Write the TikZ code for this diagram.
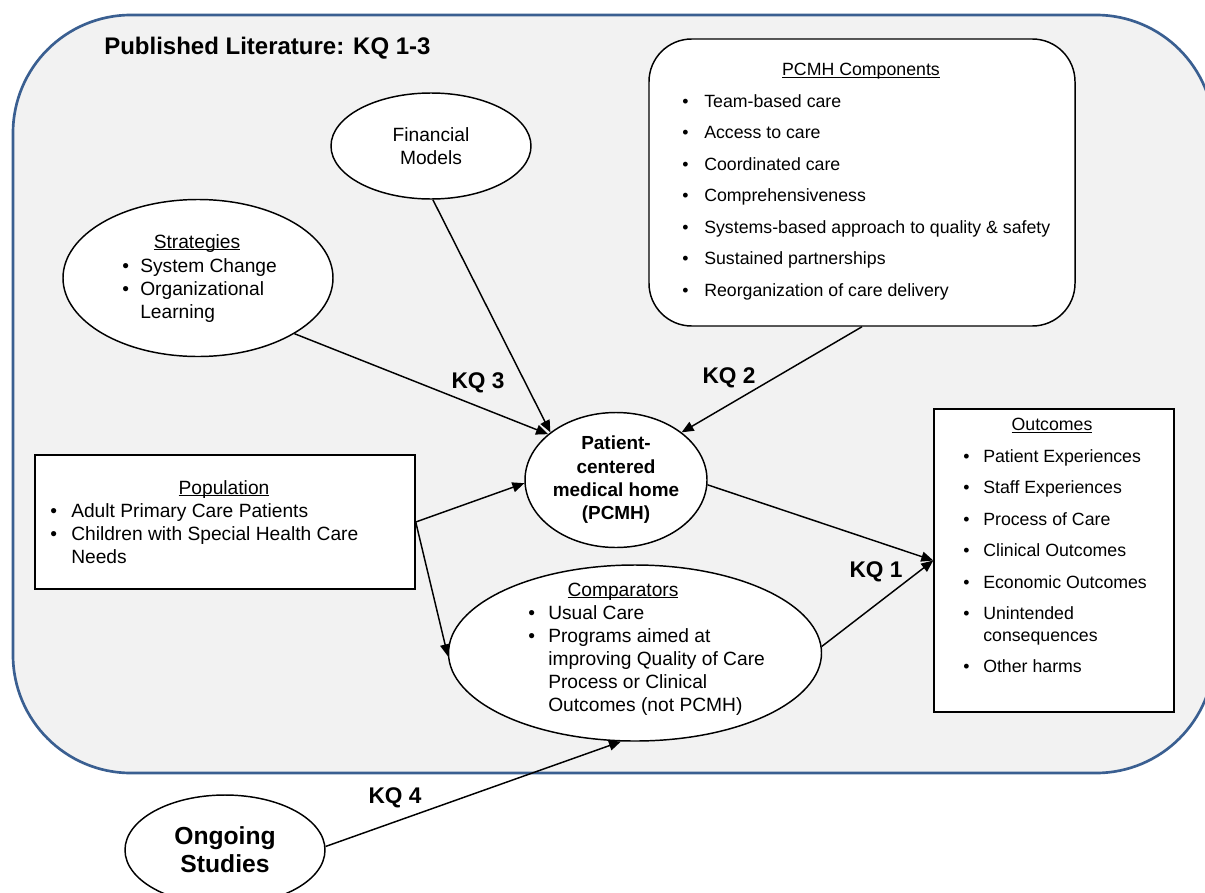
\documentclass[tikz,border=0pt]{standalone}
\usepackage{fontspec}
\setmainfont{Liberation Sans}
\usetikzlibrary{shapes.geometric,arrows.meta}
\definecolor{frameblue}{RGB}{58,95,145}
\definecolor{panel}{RGB}{242,242,242}
\newcommand\bul[1]{\makebox[#1][l]{•}}
\newsavebox\ulinebox
\newcommand\uline[1]{\sbox\ulinebox{#1}\rlap{\rule[-1.6pt]{\wd\ulinebox}{0.6pt}}\usebox\ulinebox}
\begin{document}
\begin{tikzpicture}[x=0.75pt,y=-0.75pt,
  figshape/.style={draw=black, fill=white, line width=1.1pt, inner sep=0pt},
  oval/.style={figshape, ellipse},
  box/.style={figshape, rectangle},
  conn/.style={line width=1.1pt, -{Triangle[length=9pt,width=7.5pt]}},
  kq/.style={font=\fontsize{17}{20}\selectfont\bfseries, inner sep=0pt},
  ttl/.style={inner sep=0pt, anchor=base},
  lst/.style={inner sep=0pt, anchor=base west},
  big/.style={font=\fontsize{14.4}{17.25}\selectfont},
  small/.style={font=\fontsize{13.3}{16}\selectfont},
]
\useasboundingbox (0,0) rectangle (1205,892);
\path[draw=frameblue, fill=panel, line width=2pt, rounded corners=88.5pt] (13,15) rectangle (1214,773);

\node[inner sep=0pt, anchor=base west, font=\fontsize{18}{21}\selectfont\bfseries] (title) at (104,54.5) {Published Literature: KQ 1-3};

% Financial models
\node[oval, big, minimum width=150pt, minimum height=79.5pt, align=center] (fin) at (431,146) {Financial\\Models};

% Strategies
\node[oval, minimum width=202.5pt, minimum height=117.75pt] (strat) at (198,278) {};
\node[ttl, big] (strat-t) at (197,248) {\uline{Strategies}};
\node[lst, big] (strat-l) at (122,272) {\begin{tabular}[t]{@{}l@{}}
\bul{13.5pt}System Change\\
\bul{13.5pt}Organizational\\
\hspace*{13.5pt}Learning
\end{tabular}};

% PCMH components
\node[box, rounded corners=32pt, minimum width=319.5pt, minimum height=215.25pt] (comp) at (862,182.5) {};
\node[ttl, small] (comp-t) at (861,75.5) {\uline{PCMH Components}};
\node[lst, small] (comp-l) at (682,107.5) {\begin{tabular}[t]{@{}l@{}}
\bul{16.5pt}Team-based care\\[7.6pt]
\bul{16.5pt}Access to care\\[7.6pt]
\bul{16.5pt}Coordinated care\\[7.6pt]
\bul{16.5pt}Comprehensiveness\\[7.6pt]
\bul{16.5pt}Systems-based approach to quality \& safety\\[7.6pt]
\bul{16.5pt}Sustained partnerships\\[7.6pt]
\bul{16.5pt}Reorganization of care delivery
\end{tabular}};

% PCMH
\node[oval, minimum width=136.5pt, minimum height=101.25pt, align=center, font=\fontsize{14.2}{17.5}\selectfont\bfseries] (pcmh) at (616,480) {Patient-\\centered\\medical home\\(PCMH)};

% Population
\node[box, minimum width=285pt, minimum height=100.5pt] (pop) at (225,522) {};
\node[ttl, big] (pop-t) at (224,494) {\uline{Population}};
\node[lst, big] (pop-l) at (50,517) {\begin{tabular}[t]{@{}l@{}}
\bul{15.75pt}Adult Primary Care Patients\\
\bul{15.75pt}Children with Special Health Care\\
\hspace*{15.75pt}Needs
\end{tabular}};

% Comparators
\node[oval, minimum width=279.75pt, minimum height=132pt] (cmp) at (635,653) {};
\node[ttl, font=\fontsize{14.4}{17.4}\selectfont] (cmp-t) at (623,596) {\uline{Comparators}};
\node[lst, font=\fontsize{14.4}{17.4}\selectfont] (cmp-l) at (528,619) {\begin{tabular}[t]{@{}l@{}}
\bul{15pt}Usual Care\\
\bul{15pt}Programs aimed at\\
\hspace*{15pt}improving Quality of Care\\
\hspace*{15pt}Process or Clinical\\
\hspace*{15pt}Outcomes (not PCMH)
\end{tabular}};

% Outcomes
\node[box, minimum width=180pt, minimum height=227.25pt] (out) at (1054,560.5) {};
\node[ttl, small] (out-t) at (1052,430.5) {\uline{Outcomes}};
\node[lst, small] (out-l) at (963,462.5) {\begin{tabular}[t]{@{}l@{}}
\bul{15pt}Patient Experiences\\[7.6pt]
\bul{15pt}Staff Experiences\\[7.6pt]
\bul{15pt}Process of Care\\[7.6pt]
\bul{15pt}Clinical Outcomes\\[7.6pt]
\bul{15pt}Economic Outcomes\\[7.6pt]
\bul{15pt}Unintended\\
\hspace*{15pt}consequences\\[7.6pt]
\bul{15pt}Other harms
\end{tabular}};

% Ongoing studies
\node[oval, minimum width=150pt, minimum height=82.5pt, align=center, font=\fontsize{18.5}{21}\selectfont\bfseries] (ong) at (225,850) {Ongoing\\Studies};

% KQ labels
\node[kq] (kq3) at (478,383) {KQ 3};
\node[kq] (kq2) at (729,378) {KQ 2};
\node[kq] (kq1) at (876,572) {KQ 1};
\node[kq] (kq4) at (395,798) {KQ 4};

% connectors
\draw[conn] (strat.-30) -- (pcmh.146);
\draw[conn] (fin.-88) -- (pcmh.144);
\draw[conn] (comp.south) -- (pcmh.36);
\draw[conn] (pop.east) -- (pcmh.182);
\draw[conn] (pop.east) -- (cmp.181);
\draw[conn] (pcmh.-3) -- (out.west);
\draw[conn] (cmp.2) -- (out.west);
\draw[conn] (ong.2) -- (cmp.-99);
\end{tikzpicture}
\end{document}
